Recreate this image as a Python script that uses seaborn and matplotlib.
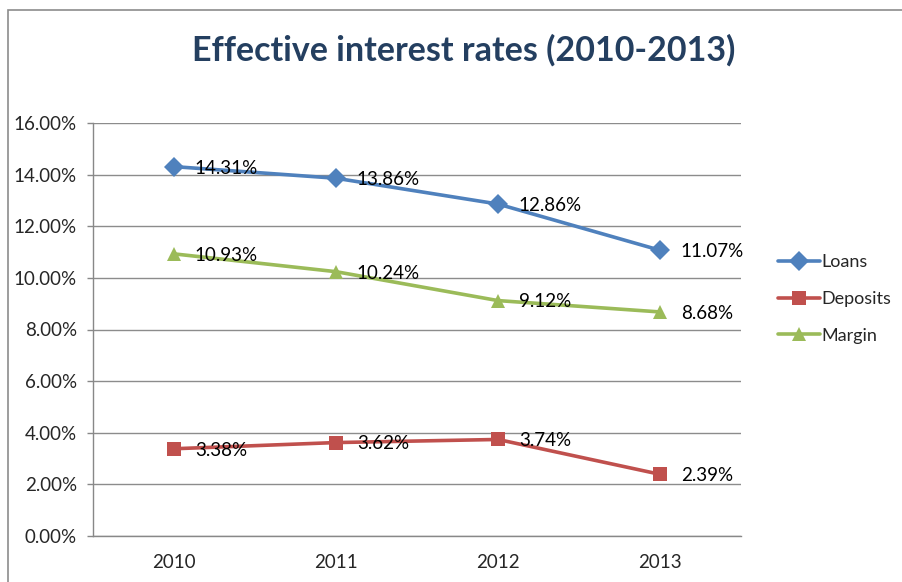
import matplotlib
matplotlib.use("Agg")
import matplotlib.pyplot as plt
import matplotlib.patches as mpatches
import seaborn as sns
import pandas as pd
import numpy as np

years = ["2010", "2011", "2012", "2013"]
loans = [14.31, 13.86, 12.86, 11.07]
deposits = [3.38, 3.62, 3.74, 2.39]
margin = [10.93, 10.24, 9.12, 8.68]
series_names = ["Loans", "Deposits", "Margin"]
y_ticks = [0, 2, 4, 6, 8, 10, 12, 14, 16]

colors = {"Loans": "#4F81BD", "Deposits": "#C0504D", "Margin": "#9BBB59"}
markers = {"Loans": "D", "Deposits": "s", "Margin": "^"}

rows = []
for name, vals in zip(series_names, [loans, deposits, margin]):
    for i, (yr, v) in enumerate(zip(years, vals)):
        rows.append({"idx": i, "year": yr, "value": v, "series": name})
df = pd.DataFrame(rows)

sns.set_theme(style="white")
plt.rcParams["font.family"] = ["Lato", "DejaVu Sans"]

FS = 13.5
fig = plt.figure(figsize=(9.03, 5.82), dpi=100)
W, H = 903, 582
ax = fig.add_axes([93 / W, 1 - 536 / H, (741 - 93) / W, (536 - 123) / H])

sns.lineplot(data=df, x="idx", y="value", hue="series", style="series",
             hue_order=series_names, style_order=series_names,
             palette=colors, markers=markers, dashes=False,
             linewidth=2.6, markersize=10, markeredgewidth=0, ax=ax, legend=True)

for name, vals in zip(series_names, [loans, deposits, margin]):
    for i, v in enumerate(vals):
        ax.annotate(f"{v:.2f}%", (i, v), xytext=(15, -1), textcoords="offset points",
                    ha="left", va="center", fontsize=FS, color="black")

ax.set_xlim(-0.5, 3.5)
ax.set_ylim(0, 16)
ax.set_yticks(y_ticks)
ax.set_yticklabels([f"{t:.2f}%" for t in y_ticks], fontsize=FS)
ax.set_xticks([0, 1, 2, 3])
ax.set_xticklabels(years, fontsize=FS)
ax.set_xticks([-0.5, 0.5, 1.5, 2.5, 3.5], minor=True)
ax.tick_params(axis="x", which="major", length=0, pad=13)
ax.tick_params(axis="x", which="minor", length=7, width=1, color="#888888", direction="out")
ax.tick_params(axis="y", length=4.5, width=1, color="#888888", direction="out", left=True, pad=7)
ax.set_xlabel("")
ax.set_ylabel("")
ax.grid(axis="y", color="#8c8c8c", linewidth=1)
ax.grid(axis="x", visible=False)
for s in ["top", "right"]:
    ax.spines[s].set_visible(False)
for s in ["left", "bottom"]:
    ax.spines[s].set_color("#888888")
    ax.spines[s].set_linewidth(1)

leg = ax.legend(loc="upper left", bbox_to_anchor=(762 / W, 1 - 238 / H),
                bbox_transform=fig.transFigure, frameon=False, fontsize=13,
                handlelength=2.3, labelspacing=1.15, handletextpad=0.1)

fig.text(0.5 * (192 + 735) / W, 1 - 50 / H, "Effective interest rates (2010-2013)",
         ha="center", va="center", fontsize=24.5, fontweight="bold", color="#243F60")

frame = mpatches.Rectangle((8 / W, -0.1), 1.2, 1 - 10 / H + 0.1, transform=fig.transFigure,
                           fill=False, edgecolor="#8c8c8c", linewidth=1.2)
fig.patches.append(frame)

fig.savefig("out.png", dpi=100)
